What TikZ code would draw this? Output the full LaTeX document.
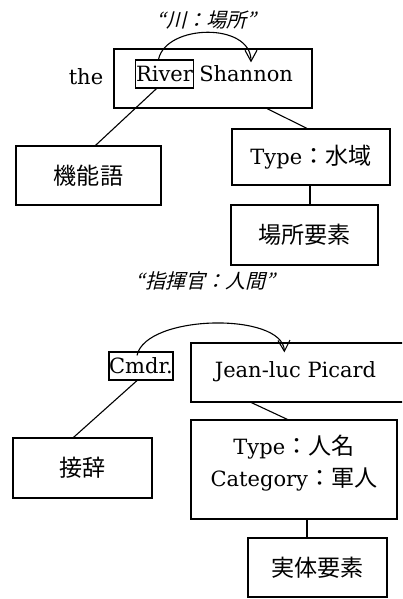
\documentclass[tikz,border=0pt]{standalone}
\usepackage{fontspec}
\setmainfont{DejaVu Serif}
\usetikzlibrary{arrows.meta,calc}
\newfontfamily\jp[Scale=1.1]{Noto Sans CJK JP}
\newfontfamily\jpit[FakeSlant=0.25]{Noto Sans CJK JP}
\begin{document}
\begin{tikzpicture}[x=1pt,y=-1pt,
  box/.style={draw,line width=1.2pt,inner sep=0pt},
  txt/.style={inner sep=0pt,font=\fontsize{21}{32}\selectfont},
  quote/.style={inner sep=0pt,font=\jpit\fontsize{20}{23}\selectfont},
  link/.style={line width=1.1pt},
  arc/.style={line width=1.1pt,-{Straight Barb[length=11pt,width=12pt,line width=1.1pt]}}]
\useasboundingbox (0,0) rectangle (402,599);
\clip (0,0) rectangle (402,599);
% ---------- top ----------
\node[quote] (q1) at (206,20) {“川：場所”};
\node[box,minimum width=198pt,minimum height=59pt] (b1) at (213,78.5) {};
\node[txt] (the) at (86,77) {the};
\node[box,txt,minimum width=58pt,minimum height=28pt] (rv) at (164.5,74) {River};
\node[txt,anchor=base west] (sh) at ($(rv.base east)+(5,0)$) {Shannon};
\node[box,txt,minimum width=145pt,minimum height=59pt] (fn) at (88.5,175.5) {\jp 機能語};
\node[box,txt,minimum width=158pt,minimum height=56pt] (tp) at (311,157) {Type{\jp ：水域}};
\node[box,txt,minimum width=147pt,minimum height=60pt] (ps) at (304.5,235) {\jp 場所要素};
\coordinate (c1) at ($(tp.south)+(-1,0)$);
\coordinate (c2) at (c1 |- ps.north);
\draw[arc] ($(rv.north)+(-6,0)$) .. controls (166,24) and (251,22) .. ($(b1.north)+(38,14)$);
\draw[link] ($(rv.south)+(-8,0)$) -- ($(fn.north)+(7,0)$);
\draw[link] ($(b1.south)+(54,0)$) -- ($(tp.north)+(-4,0)$);
\draw[link] (c1) -- (c2);
% ---------- bottom ----------
\node[quote] (q2) at (205,281) {“指揮官：人間”};
\node[box,txt,minimum width=62pt,minimum height=28pt] (cm) at (141,366) {Cmdr.};
\node[box,minimum width=220pt,minimum height=59pt] (jp) at (301,372.5) {};
\node[txt] (jpt) at (295.5,372) {Jean-luc Picard};
\node[box,txt,minimum width=139pt,minimum height=60pt] (af) at (82.5,468) {\jp 接辞};
\node[box,minimum width=206pt,minimum height=99pt] (tc) at (294,469.5) {};
\node[txt,align=center] (tct) at (294,463) {Type{\jp ：人名}\\Category{\jp ：軍人}};
\node[box,txt,minimum width=139pt,minimum height=59pt] (ee) at (317.5,567.5) {\jp 実体要素};
\coordinate (c3) at ($(tc.south)+(13,0)$);
\coordinate (c4) at (c3 |- ee.north);
\draw[arc] ($(cm.north)+(-4,4)$) .. controls (146,314) and (283,312) .. ($(jp.north west)+(94,10)$);
\draw[link] ($(cm.south)+(-4,0)$) -- ($(af.north)+(-9,0)$);
\draw[link] ($(jp.south west)+(61,0)$) -- ($(tc.north west)+(97,0)$);
\draw[link] (c3) -- (c4);
\end{tikzpicture}
\end{document}
